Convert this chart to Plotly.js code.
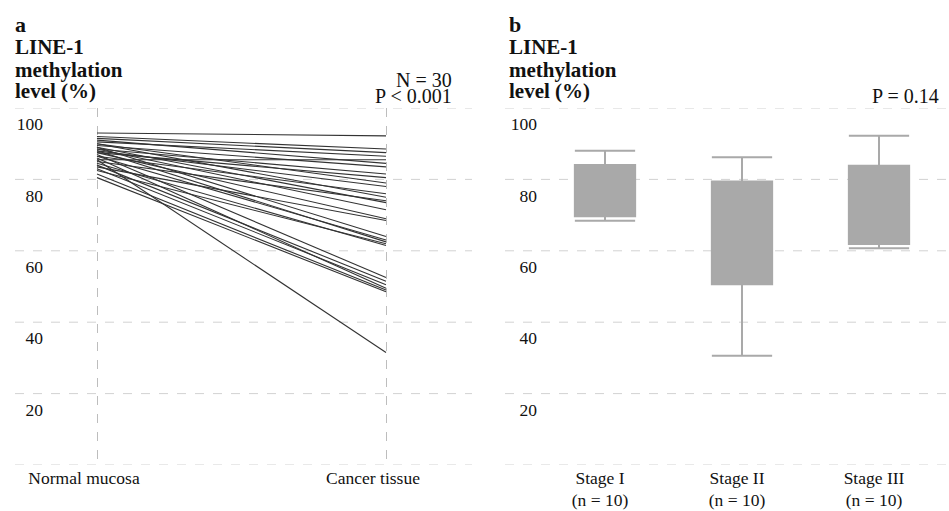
<!DOCTYPE html>
<html>
<head>
<meta charset="utf-8">
<script src="https://cdn.plot.ly/plotly-3.0.1.min.js"></script>
<style>html,body{margin:0;padding:0;background:#fff;}#chart{width:949px;height:511px;}</style>
</head>
<body>
<div id="chart"></div>
<script>
// ---- data ----
const tissueLabels = ['Normal mucosa', 'Cancer tissue'];
const normalMucosa = [93.0, 92.0, 91.5, 91.0, 90.5, 90.0, 90.0, 89.5, 89.0, 89.0, 88.5, 88.5, 88.0, 88.0, 87.5,
                      87.5, 87.0, 86.5, 86.5, 86.0, 85.5, 85.5, 85.0, 84.5, 84.0, 83.5, 83.0, 82.5, 81.5, 80.5];
const cancerTissue = [92.2, 88.5, 87.5, 84.5, 86.5, 79.0, 75.0, 83.5, 73.5, 64.0, 81.5, 71.5, 78.0, 62.5, 80.5,
                      69.0, 52.5, 76.0, 63.0, 49.5, 31.5, 85.5, 74.0, 61.5, 51.5, 68.5, 50.5, 62.0, 49.0, 48.5];

const stageLabels = ['Stage I<br>(n = 10)', 'Stage II<br>(n = 10)', 'Stage III<br>(n = 10)'];
const stageLowerFence = [68.4, 30.6, 60.7];
const stageQ1 = [69.7, 50.6, 61.9];
const stageMedian = [77.0, 66.0, 73.0];
const stageQ3 = [84.0, 79.4, 83.8];
const stageUpperFence = [88.0, 86.2, 92.2];

const yTickVals = [20, 40, 60, 80, 100];
const yGridVals = [0, 20, 40, 60, 80, 100];

// ---- build ----
const W = 949;
const lx = [], ly = [];
for (let i = 0; i < normalMucosa.length; i++) {
  lx.push(0, 1, null);
  ly.push(normalMucosa[i], cancerTissue[i], null);
}

const traces = [
  {
    type: 'scatter', mode: 'lines', x: lx, y: ly, xaxis: 'x', yaxis: 'y',
    line: {color: '#333333', width: 1.1}, hoverinfo: 'skip', showlegend: false,
    connectgaps: false
  },
  {
    type: 'box', xaxis: 'x2', yaxis: 'y2', x: stageLabels,
    q1: stageQ1, median: stageMedian, q3: stageQ3,
    lowerfence: stageLowerFence, upperfence: stageUpperFence,
    width: 0.44, whiskerwidth: 1,
    fillcolor: '#a9a9a9', line: {color: '#a9a9a9', width: 2},
    hoverinfo: 'skip', showlegend: false
  }
];

const serif = 'Liberation Serif, Times New Roman, serif';
const gridLine = {color: '#d2d2d2', width: 1, dash: 'dash'};
const shapes = [];
yGridVals.forEach(v => {
  shapes.push({type: 'line', xref: 'paper', yref: 'y', x0: 15 / W, x1: 472 / W, y0: v, y1: v, line: gridLine, layer: 'below'});
  shapes.push({type: 'line', xref: 'paper', yref: 'y2', x0: 505 / W, x1: 1, y0: v, y1: v, line: gridLine, layer: 'below'});
});

function ann(text, xpx, ypx, size, bold, anchor) {
  return {
    text: bold ? '<b>' + text + '</b>' : text,
    xref: 'paper', yref: 'paper', x: xpx / W, y: 1 - ypx / 511,
    xanchor: anchor, yanchor: 'middle', showarrow: false,
    font: {family: serif, size: size, color: '#111'}
  };
}

const annotations = [
  ann('a', 13, 25, 22, true, 'left'),
  ann('LINE-1', 13, 47, 21, true, 'left'),
  ann('methylation', 13, 70, 21, true, 'left'),
  ann('level (%)', 13, 91, 21, true, 'left'),
  ann('N = 30', 454, 80, 20, false, 'right'),
  ann('P &lt; 0.001', 454, 96, 20, false, 'right'),
  ann('b', 507, 25, 22, true, 'left'),
  ann('LINE-1', 507, 47, 21, true, 'left'),
  ann('methylation', 507, 70, 21, true, 'left'),
  ann('level (%)', 507, 91, 21, true, 'left'),
  ann('P = 0.14', 941, 96, 20, false, 'right')
];

const tickFont = {family: serif, size: 17.5, color: '#111'};
const yDomain = [(511 - 465) / 511, (511 - 108) / 511];

const layout = {
  width: 949, height: 511,
  margin: {l: 0, r: 0, t: 0, b: 0},
  paper_bgcolor: '#fff', plot_bgcolor: 'rgba(0,0,0,0)',
  showlegend: false,
  xaxis: {
    domain: [44 / W, 472 / W], range: [(44 - 97) / 289, (472 - 97) / 289],
    tickvals: [0, 1], ticktext: tissueLabels, ticks: '',
    showgrid: true, gridcolor: '#bdbdbd', griddash: 'dash', gridwidth: 1,
    zeroline: false, showline: false, tickfont: tickFont, ticklabelshift: -13,
    fixedrange: true
  },
  yaxis: {
    domain: yDomain, range: [0, 100], anchor: 'x',
    tickvals: yTickVals, ticks: '', showgrid: false, zeroline: false, showline: false,
    tickfont: tickFont, ticklabelshift: 16, fixedrange: true
  },
  xaxis2: {
    domain: [538 / W, 1], range: [(538 - 605) / 137, (949 - 605) / 137],
    type: 'category', categoryarray: stageLabels, ticks: '',
    showgrid: false, zeroline: false, showline: false, tickfont: tickFont,
    ticklabelshift: -5, anchor: 'y2', fixedrange: true
  },
  yaxis2: {
    domain: yDomain, range: [0, 100], anchor: 'x2',
    tickvals: yTickVals, ticks: '', showgrid: false, zeroline: false, showline: false,
    tickfont: tickFont, ticklabelshift: 16, fixedrange: true
  },
  shapes: shapes,
  annotations: annotations
};

Plotly.newPlot('chart', traces, layout, {displayModeBar: false, staticPlot: true});
</script>
</body>
</html>
